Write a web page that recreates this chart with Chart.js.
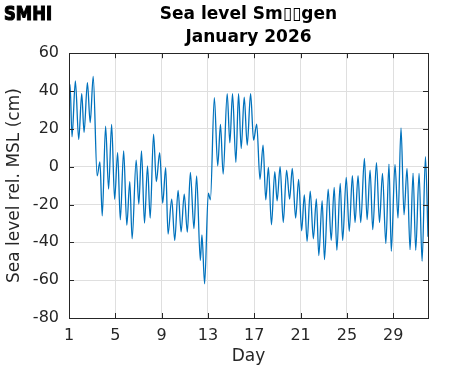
<!DOCTYPE html>
<html>
<head>
<meta charset="utf-8">
<script src="https://cdn.jsdelivr.net/npm/chart.js@4/dist/chart.umd.min.js"></script>
<style>
  html, body { margin: 0; padding: 0; background: #fff; }
  canvas { display: block; }
</style>
</head>
<body>
<canvas id="seaChart" width="471" height="371"></canvas>
<script>
// turning points of the sea level curve (day of month, cm)
const days = [
  1.00, 1.09, 1.26, 1.55, 1.84, 2.10, 2.30, 2.59, 2.83, 3.09,
  3.43, 3.67, 3.87, 4.16, 4.42, 4.68, 4.94, 5.20, 5.43, 5.72,
  5.99, 6.25, 6.45, 6.80, 7.03, 7.26, 7.52, 7.78, 8.01, 8.30,
  8.54, 8.83, 9.09, 9.35, 9.55, 9.87, 10.13, 10.42, 10.68, 10.95,
  11.22, 11.48, 11.79, 12.02, 12.34, 12.48, 12.71, 13.03, 13.21, 13.55,
  13.84, 14.08, 14.31, 14.66, 14.89, 15.12, 15.41, 15.64, 15.87, 16.13,
  16.39, 16.68, 16.94, 17.21, 17.49, 17.76, 17.99, 18.22, 18.48, 18.77,
  18.97, 19.23, 19.50, 19.79, 20.05, 20.28, 20.57, 20.83, 21.09, 21.32,
  21.56, 21.83, 22.10, 22.36, 22.57, 22.86, 23.06, 23.38, 23.64, 23.90,
  24.13, 24.42, 24.63, 24.94, 25.20, 25.47, 25.70, 25.96, 26.19, 26.51,
  26.74, 27.00, 27.23, 27.55, 27.81, 28.07, 28.36, 28.63, 28.83, 29.15,
  29.41, 29.67, 29.93, 30.19, 30.45, 30.71, 30.94, 31.23, 31.49, 31.78,
  32.00
];
const level = [
  36, 43.5, 15.8, 45.3, 14.4, 38.6, 18.1, 44.4, 23.3, 47.7,
  -4.9, 2.5, -26, 21.4, -11.9, 22.3, -17.2, 7.4, -28.1, 8.4,
  -30.9, -7.9, -38.1, 3.5, -19.8, 8.4, -29.8, 0.4, -27.2, 17.2,
  -7.9, 7.4, -19.3, -0.5, -35.6, -17.2, -39, -12.6, -34.5, -14.5,
  -34.6, -3, -32.8, -4.9, -49.6, -36, -61.9, -14, -17.5, 36.5,
  0.4, 22.3, -3.9, 38.6, 12.6, 38.6, 2.3, 38.6, 9.6, 36.8,
  11.4, 38.6, 14.0, 22.5, -6.7, 11.4, -17.5, -0.4, -30.7, -2.6,
  -18.1, 0, -29.5, -1.8, -17.2, -0.9, -27.2, -6.7, -33.9, -14.9,
  -39.5, -13, -38.1, -17, -47, -17.9, -49.1, -11.9, -39, -10.9,
  -44.2, -8.8, -39, -5.6, -34.2, -4.7, -29.5, -4.7, -29.5, 4.4,
  -28, -1.8, -33.3, 2.1, -29.5, -3.5, -40.7, 1.4, -44.7, 1.2,
  -27.2, 20.5, -25.4, -0.9, -43.9, -3.5, -44.2, -3.5, -50, 5.3,
  -37
];
const dayTicks = [1, 5, 9, 13, 17, 21, 25, 29];
const levelTicks = [-80, -60, -40, -20, 0, 20, 40, 60];

const axisColor = '#262626';
const gridColor = '#dfdfdf';
const fontFamily = '"DejaVu Sans", sans-serif';

// MATLAB style box with inward ticks, plus the SMHI mark
const axesBox = {
  id: 'axesBox',
  afterDraw(chart) {
    const { ctx, chartArea: a, scales } = chart;
    const len = 5;
    ctx.save();
    ctx.strokeStyle = axisColor;
    ctx.lineWidth = 1;
    ctx.beginPath();
    dayTicks.forEach(v => {
      const x = Math.round(scales.x.getPixelForValue(v)) + 0.5;
      ctx.moveTo(x, a.bottom); ctx.lineTo(x, a.bottom - len);
      ctx.moveTo(x, a.top); ctx.lineTo(x, a.top + len);
    });
    levelTicks.forEach(v => {
      const y = Math.round(scales.y.getPixelForValue(v)) + 0.5;
      ctx.moveTo(a.left, y); ctx.lineTo(a.left + len, y);
      ctx.moveTo(a.right, y); ctx.lineTo(a.right - len, y);
    });
    ctx.stroke();
    ctx.strokeRect(Math.round(a.left) + 0.5, Math.round(a.top) + 0.5,
      Math.round(a.right - a.left), Math.round(a.bottom - a.top));
    ctx.restore();

    // logo: heavy, squeezed lettering
    ctx.save();
    ctx.font = 'bold 20px "DejaVu Sans", sans-serif';
    const w = ctx.measureText('SMHI').width;
    ctx.translate(4, 20);
    ctx.scale(48 / w, 1);
    ctx.fillStyle = '#000';
    ctx.strokeStyle = '#000';
    ctx.lineWidth = 1.2;
    ctx.textBaseline = 'alphabetic';
    ctx.textAlign = 'left';
    ctx.fillText('SMHI', 0, 0);
    ctx.strokeText('SMHI', 0, 0);
    ctx.restore();
  }
};

new Chart(document.getElementById('seaChart').getContext('2d'), {
  type: 'line',
  data: {
    datasets: [{
      data: days.map((d, i) => ({ x: d, y: level[i] })),
      borderColor: '#0072BD',
      borderWidth: 1.3,
      pointRadius: 0,
      fill: false,
      cubicInterpolationMode: 'monotone'
    }]
  },
  options: {
    responsive: false,
    animation: false,
    devicePixelRatio: 1,
    layout: { padding: { left: 0, right: 43, top: 0, bottom: 0 } },
    plugins: {
      legend: { display: false },
      tooltip: { enabled: false },
      title: {
        display: true,
        fullSize: false,
        text: ['Sea level Sm\u25AF\u25AFgen', 'January 2026'],
        color: '#000',
        font: { family: fontFamily, size: 17, weight: 'bold', lineHeight: 1.3 },
        padding: { top: 4, bottom: 5 }
      }
    },
    scales: {
      x: {
        type: 'linear',
        min: 1,
        max: 32,
        afterBuildTicks: s => { s.ticks = dayTicks.map(v => ({ value: v })); },
        afterFit: s => { s.height = 53; },
        grid: { color: gridColor, drawTicks: false },
        border: { display: false },
        ticks: {
          color: axisColor,
          padding: 8,
          maxRotation: 0,
          font: { family: fontFamily, size: 16 }
        },
        title: {
          display: true,
          text: 'Day',
          color: axisColor,
          font: { family: fontFamily, size: 17 },
          padding: { top: 0, bottom: 4 }
        }
      },
      y: {
        min: -80,
        max: 60,
        afterBuildTicks: s => { s.ticks = levelTicks.map(v => ({ value: v })); },
        afterFit: s => { s.width = 69; },
        grid: { color: gridColor, drawTicks: false },
        border: { display: false },
        ticks: {
          color: axisColor,
          padding: 10,
          font: { family: fontFamily, size: 16 }
        },
        title: {
          display: true,
          text: 'Sea level rel. MSL (cm)',
          color: axisColor,
          font: { family: fontFamily, size: 17 },
          padding: { top: 4, bottom: 0 }
        }
      }
    }
  },
  plugins: [axesBox]
});
</script>
</body>
</html>
